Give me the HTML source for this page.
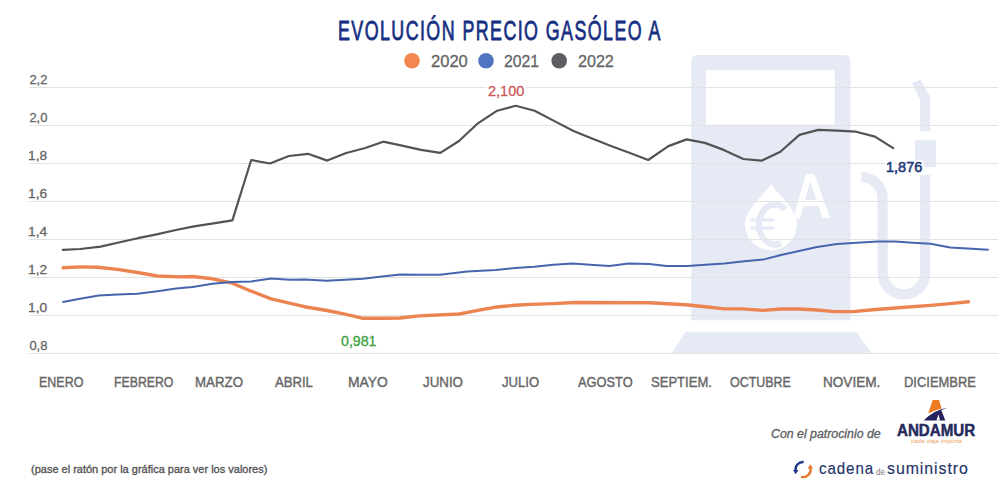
<!DOCTYPE html>
<html><head><meta charset="utf-8"><style>
html,body{margin:0;padding:0;background:#fff;}
body{width:1000px;height:500px;position:relative;overflow:hidden;font-family:"Liberation Sans", sans-serif;}
.t{position:absolute;white-space:nowrap;line-height:1;transform-origin:0 0;}
</style></head><body>
<svg width="1000" height="500" viewBox="0 0 1000 500" style="position:absolute;left:0;top:0">
<g fill="#e6eaf5">
<path d="M691.3,320.3 V61 Q691.3,55 697.3,55 H844.5 Q850.5,55 850.5,61 V320.3 Z"/>
<polygon points="685.8,331.8 856.4,331.8 871.4,353.5 671.4,353.5"/>
<polygon points="912,83 920.2,79.6 930.3,97 930.3,131.3 920.2,131.3 920.2,100"/>
<rect x="915" y="140.2" width="21" height="27"/>
</g>
<rect x="706" y="70.2" width="128.8" height="54.4" fill="#fff"/>
<path d="M861.4,177.2 A21.2,21.2 0 0 1 882.6,198.4 V273 A21.3,21.3 0 0 0 925.2,273 V175" fill="none" stroke="#e6eaf5" stroke-width="10.3"/>
<g fill="#fff">
<path d="M771.2,183.8 C775,192 797,208 797,224.2 A26,26 0 0 1 745,224.2 C745,208 767.4,192 771.2,183.8 Z"/>
<path d="M793,219 L806,174 L814.4,174 L830,217.8 L822.5,217.8 L818.6,206 L803.5,206 L800,219 Z M805.1,200 L816.5,200 L810.2,181 Z" fill-rule="evenodd"/>
</g>
<path d="M785.28,209.28 A16,20 0 1 0 780.99,243.14" fill="none" stroke="#e6eaf5" stroke-width="6.2"/>
<g fill="#e6eaf5"><rect x="750.4" y="218.2" width="24" height="3.3"/><rect x="750.4" y="226.3" width="24" height="3.3"/></g>
<g stroke="#e3e3e3" stroke-width="1"><line x1="29" y1="87.5" x2="998" y2="87.5"/><line x1="29" y1="125.5" x2="998" y2="125.5"/><line x1="29" y1="163.5" x2="998" y2="163.5"/><line x1="29" y1="201.5" x2="998" y2="201.5"/><line x1="29" y1="239.5" x2="998" y2="239.5"/><line x1="29" y1="277.5" x2="998" y2="277.5"/><line x1="29" y1="315.5" x2="998" y2="315.5"/><line x1="29" y1="353.5" x2="998" y2="353.5"/></g>
<polyline points="63.1,267.8 80.0,266.9 97.5,267.2 117.5,269.4 137.5,272.5 157.5,276.0 180.0,276.9 192.5,276.5 212.5,278.8 231.2,282.8 251.2,291.2 271.2,298.8 285.0,302.2 304.5,306.7 327.0,310.5 345.0,314.2 363.0,318.3 384.0,318.3 400.0,318.0 419.2,315.9 459.2,314.0 475.2,310.8 494.4,307.3 515.0,305.2 531.0,304.4 553.4,303.6 574.2,302.5 649.2,302.8 686.0,304.7 705.2,306.8 724.4,308.9 742.0,308.9 763.0,310.4 781.0,309.0 799.0,309.0 817.0,310.0 835.0,311.6 853.0,311.6 870.0,310.0 895.2,308.0 930.4,305.4 950.2,303.6 968.5,301.8" fill="none" stroke="#ec8452" stroke-width="3.4" stroke-linejoin="round" stroke-linecap="round"/>
<polyline points="63.0,301.9 80.0,298.8 98.8,295.6 117.5,294.4 137.5,293.8 157.5,291.2 176.0,288.5 192.5,286.9 212.5,283.8 231.2,281.9 251.2,281.5 271.2,278.5 290.0,279.7 304.5,279.4 327.0,280.8 345.0,279.8 363.0,278.7 382.0,276.6 400.4,274.5 420.0,274.8 440.0,274.8 467.2,271.6 496.0,270.0 515.0,267.9 534.2,266.8 553.4,264.7 572.6,263.6 590.2,264.7 609.4,266.0 628.6,263.6 649.2,264.1 666.8,266.0 687.6,266.0 705.2,264.7 724.4,263.6 742.0,261.5 763.0,259.6 781.0,255.0 799.0,251.0 817.0,247.0 837.0,244.0 853.0,243.0 877.6,241.6 895.2,241.6 912.8,242.7 930.4,243.8 950.2,247.5 967.8,248.6 988.0,249.7" fill="none" stroke="#4566ae" stroke-width="2" stroke-linejoin="round" stroke-linecap="round"/>
<polyline points="62.8,249.8 80.2,249.0 100.6,246.6 119.8,242.3 137.8,238.2 155.5,234.6 176.0,230.0 194.0,226.4 213.5,223.4 232.4,220.4 251.2,160.0 270.0,163.5 288.8,156.0 308.0,153.8 327.2,160.6 346.2,153.0 365.2,148.0 383.2,141.7 402.0,145.7 421.0,149.8 440.3,152.9 459.0,141.0 477.9,123.3 497.2,110.7 515.7,105.8 534.6,110.7 553.5,120.6 573.5,131.0 592.0,138.6 611.0,146.0 630.0,153.0 648.2,160.0 668.4,146.1 686.6,139.4 704.8,142.9 723.7,149.9 743.3,159.0 761.5,160.7 780.4,151.7 799.4,134.9 818.3,129.9 837.2,130.7 856.1,131.7 875.0,136.6 893.2,148.1" fill="none" stroke="#535353" stroke-width="2.2" stroke-linejoin="round" stroke-linecap="round"/>
<circle cx="412" cy="60.8" r="7.8" fill="#f4874f"/>
<circle cx="486" cy="60.8" r="7.8" fill="#5174c1"/>
<circle cx="559.2" cy="60.8" r="7.8" fill="#5f5f63"/>

<path d="M932.7,400.1 L939,400.1 L941.6,408.4 Q934.5,410.2 928.2,413.6 Z" fill="#ee7a22"/>
<path d="M923.7,420.5 Q934,410 948,407.6 Q943.5,409.2 941.3,410.2 L945.3,420.5 Z" fill="#25205e"/>
<polygon points="936.4,420.6 940,420.6 938.6,414.2" fill="#fff"/>
<path d="M803.7,462 A7.5,7.5 0 0 0 795.6,470.5" fill="none" stroke="#1f3a8a" stroke-width="2.4"/>
<polygon points="793,470 798.4,470 795.7,474.3" fill="#1f3a8a"/>
<path d="M810.3,467.5 A7.5,7.5 0 0 1 801,476.8" fill="none" stroke="#e8782e" stroke-width="2.4"/>
<polygon points="807.6,468.4 813,468.4 810.3,464.3" fill="#e8782e"/>

</svg>
<div class="t" id="title" style="left:338.08px;top:17.60px;font-size:27px;color:#162f82;transform:scaleX(0.6598);-webkit-text-stroke:0.8px #162f82;letter-spacing:2.2px;">EVOLUCIÓN PRECIO GASÓLEO A</div><div class="t" id="l20" style="left:430.60px;top:53.70px;font-size:16px;color:#666666;transform:scaleX(1.0343);-webkit-text-stroke:0.3px #666666;">2020</div><div class="t" id="l21" style="left:504.20px;top:53.70px;font-size:16px;color:#666666;transform:scaleX(0.9857);-webkit-text-stroke:0.3px #666666;">2021</div><div class="t" id="l22" style="left:577.80px;top:53.70px;font-size:16px;color:#666666;transform:scaleX(1.0057);-webkit-text-stroke:0.3px #666666;">2022</div><div class="t" id="y0" style="left:29.40px;top:72.70px;font-size:13px;color:#666666;-webkit-text-stroke:0.3px #666666;">2,2</div><div class="t" id="y1" style="left:29.40px;top:110.70px;font-size:13px;color:#666666;-webkit-text-stroke:0.3px #666666;">2,0</div><div class="t" id="y2" style="left:28.34px;top:148.70px;font-size:13px;color:#666666;transform:scaleX(1.0588);-webkit-text-stroke:0.3px #666666;">1,8</div><div class="t" id="y3" style="left:28.34px;top:186.70px;font-size:13px;color:#666666;transform:scaleX(1.0588);-webkit-text-stroke:0.3px #666666;">1,6</div><div class="t" id="y4" style="left:28.34px;top:224.70px;font-size:13px;color:#666666;transform:scaleX(1.0588);-webkit-text-stroke:0.3px #666666;">1,4</div><div class="t" id="y5" style="left:28.34px;top:262.70px;font-size:13px;color:#666666;transform:scaleX(1.0588);-webkit-text-stroke:0.3px #666666;">1,2</div><div class="t" id="y6" style="left:28.34px;top:300.70px;font-size:13px;color:#666666;transform:scaleX(1.0588);-webkit-text-stroke:0.3px #666666;">1,0</div><div class="t" id="y7" style="left:29.40px;top:338.70px;font-size:13px;color:#666666;-webkit-text-stroke:0.3px #666666;">0,8</div><div class="t" id="m0" style="left:38.64px;top:374.90px;font-size:14.5px;color:#666666;transform:scaleX(0.86);-webkit-text-stroke:0.4px #666666;">ENERO</div><div class="t" id="m1" style="left:114.15px;top:374.90px;font-size:14.5px;color:#666666;transform:scaleX(0.8478);-webkit-text-stroke:0.4px #666666;">FEBRERO</div><div class="t" id="m2" style="left:194.83px;top:374.90px;font-size:14.5px;color:#666666;transform:scaleX(0.9167);-webkit-text-stroke:0.4px #666666;">MARZO</div><div class="t" id="m3" style="left:275.00px;top:374.90px;font-size:14.5px;color:#666666;transform:scaleX(0.9048);-webkit-text-stroke:0.4px #666666;">ABRIL</div><div class="t" id="m4" style="left:347.79px;top:374.90px;font-size:14.5px;color:#666666;transform:scaleX(0.9562);-webkit-text-stroke:0.4px #666666;">MAYO</div><div class="t" id="m5" style="left:423.00px;top:374.90px;font-size:14.5px;color:#666666;transform:scaleX(0.9186);-webkit-text-stroke:0.4px #666666;">JUNIO</div><div class="t" id="m6" style="left:502.00px;top:374.90px;font-size:14.5px;color:#666666;transform:scaleX(0.9024);-webkit-text-stroke:0.4px #666666;">JULIO</div><div class="t" id="m7" style="left:578.00px;top:374.90px;font-size:14.5px;color:#666666;transform:scaleX(0.8852);-webkit-text-stroke:0.4px #666666;">AGOSTO</div><div class="t" id="m8" style="left:650.75px;top:374.90px;font-size:14.5px;color:#666666;transform:scaleX(0.8993);-webkit-text-stroke:0.4px #666666;">SEPTIEM.</div><div class="t" id="m9" style="left:730.00px;top:374.90px;font-size:14.5px;color:#666666;transform:scaleX(0.8592);-webkit-text-stroke:0.4px #666666;">OCTUBRE</div><div class="t" id="m10" style="left:822.81px;top:374.90px;font-size:14.5px;color:#666666;transform:scaleX(0.9364);-webkit-text-stroke:0.4px #666666;">NOVIEM.</div><div class="t" id="m11" style="left:903.71px;top:374.90px;font-size:14.5px;color:#666666;transform:scaleX(0.8925);-webkit-text-stroke:0.4px #666666;">DICIEMBRE</div><div class="t" id="v2100" style="left:487.70px;top:83.00px;font-size:15px;color:#cc5656;transform:scaleX(0.9676);-webkit-text-stroke:0.3px #cc5656;text-shadow:1.50px 0.00px 0 #fff,1.30px 0.75px 0 #fff,0.75px 1.30px 0 #fff,0.00px 1.50px 0 #fff,-0.75px 1.30px 0 #fff,-1.30px 0.75px 0 #fff,-1.50px 0.00px 0 #fff,-1.30px -0.75px 0 #fff,-0.75px -1.30px 0 #fff,-0.00px -1.50px 0 #fff,0.75px -1.30px 0 #fff,1.30px -0.75px 0 #fff,2.50px 0.00px 0 #fff,2.17px 1.25px 0 #fff,1.25px 2.17px 0 #fff,0.00px 2.50px 0 #fff,-1.25px 2.17px 0 #fff,-2.17px 1.25px 0 #fff,-2.50px 0.00px 0 #fff,-2.17px -1.25px 0 #fff,-1.25px -2.17px 0 #fff,-0.00px -2.50px 0 #fff,1.25px -2.17px 0 #fff,2.17px -1.25px 0 #fff,0 0 4px #fff;">2,100</div><div class="t" id="v0981" style="left:341.30px;top:333.60px;font-size:14.5px;color:#3c9e3c;transform:scaleX(0.9778);-webkit-text-stroke:0.3px #3c9e3c;text-shadow:1.50px 0.00px 0 #fff,1.30px 0.75px 0 #fff,0.75px 1.30px 0 #fff,0.00px 1.50px 0 #fff,-0.75px 1.30px 0 #fff,-1.30px 0.75px 0 #fff,-1.50px 0.00px 0 #fff,-1.30px -0.75px 0 #fff,-0.75px -1.30px 0 #fff,-0.00px -1.50px 0 #fff,0.75px -1.30px 0 #fff,1.30px -0.75px 0 #fff,2.50px 0.00px 0 #fff,2.17px 1.25px 0 #fff,1.25px 2.17px 0 #fff,0.00px 2.50px 0 #fff,-1.25px 2.17px 0 #fff,-2.17px 1.25px 0 #fff,-2.50px 0.00px 0 #fff,-2.17px -1.25px 0 #fff,-1.25px -2.17px 0 #fff,-0.00px -2.50px 0 #fff,1.25px -2.17px 0 #fff,2.17px -1.25px 0 #fff,0 0 4px #fff;">0,981</div><div class="t" id="v1876" style="left:885.96px;top:158.50px;font-size:15.5px;color:#1c3a7c;transform:scaleX(0.9368);-webkit-text-stroke:0.6px #1c3a7c;text-shadow:1.50px 0.00px 0 #fff,1.30px 0.75px 0 #fff,0.75px 1.30px 0 #fff,0.00px 1.50px 0 #fff,-0.75px 1.30px 0 #fff,-1.30px 0.75px 0 #fff,-1.50px 0.00px 0 #fff,-1.30px -0.75px 0 #fff,-0.75px -1.30px 0 #fff,-0.00px -1.50px 0 #fff,0.75px -1.30px 0 #fff,1.30px -0.75px 0 #fff,2.50px 0.00px 0 #fff,2.17px 1.25px 0 #fff,1.25px 2.17px 0 #fff,0.00px 2.50px 0 #fff,-1.25px 2.17px 0 #fff,-2.17px 1.25px 0 #fff,-2.50px 0.00px 0 #fff,-2.17px -1.25px 0 #fff,-1.25px -2.17px 0 #fff,-0.00px -2.50px 0 #fff,1.25px -2.17px 0 #fff,2.17px -1.25px 0 #fff,0 0 4px #fff;">1,876</div><div class="t" id="patro" style="left:771.25px;top:428.00px;font-size:12px;color:#606060;font-style:italic;transform:scaleX(1.028);-webkit-text-stroke:0.3px #606060;">Con el patrocinio de</div><div class="t" id="pase" style="left:30.50px;top:464.40px;font-size:11.5px;color:#555555;transform:scaleX(0.9555);-webkit-text-stroke:0.35px #555555;">(pase el ratón por la gráfica para ver los valores)</div><div class="t" id="andamur" style="left:896.50px;top:423.00px;font-size:16px;color:#262a5e;font-weight:bold;transform:scaleX(0.9458);-webkit-text-stroke:0.5px #262a5e;">ANDAMUR</div><div class="t" id="cvi" style="left:910.80px;top:438.00px;font-size:6px;color:#e8a35a;transform:scaleX(1.0438);">cada viaje importa</div><div class="t" id="cadena" style="left:819.11px;top:459.80px;font-size:17px;color:#1f3468;transform:scaleX(0.8917);-webkit-text-stroke:0.15px #1f3468;letter-spacing:1.0px;">cadena</div><div class="t" id="de" style="left:876.00px;top:468.00px;font-size:9px;color:#808080;transform:scaleX(0.9);">de</div><div class="t" id="sumin" style="left:886.56px;top:460.00px;font-size:17px;color:#1f3468;transform:scaleX(0.9353);-webkit-text-stroke:0.15px #1f3468;letter-spacing:1.0px;">suministro</div>
</body></html>
